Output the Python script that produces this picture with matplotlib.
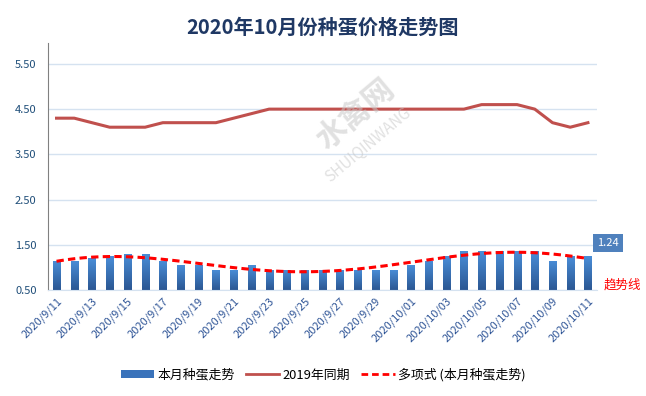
import numpy as np
import matplotlib
matplotlib.use("Agg")
import matplotlib.pyplot as plt
from matplotlib.patches import Patch
from matplotlib.lines import Line2D
from matplotlib.transforms import ScaledTranslation

plt.rcParams['font.family'] = ['Noto Sans CJK SC', 'DejaVu Sans']

# ---------------- datos ----------------
fechas = ['2020/9/11', '2020/9/12', '2020/9/13', '2020/9/14', '2020/9/15', '2020/9/16',
          '2020/9/17', '2020/9/18', '2020/9/19', '2020/9/20', '2020/9/21', '2020/9/22',
          '2020/9/23', '2020/9/24', '2020/9/25', '2020/9/26', '2020/9/27', '2020/9/28',
          '2020/9/29', '2020/9/30', '2020/10/01', '2020/10/02', '2020/10/03', '2020/10/04',
          '2020/10/05', '2020/10/06', '2020/10/07', '2020/10/08', '2020/10/09', '2020/10/10',
          '2020/10/11']
precio_2020 = [1.15, 1.15, 1.20, 1.25, 1.30, 1.30, 1.15, 1.05, 1.05, 0.95, 0.95, 1.05,
               0.95, 0.95, 0.95, 0.95, 0.95, 0.95, 0.95, 0.95, 1.05, 1.15, 1.25, 1.35,
               1.35, 1.35, 1.35, 1.35, 1.15, 1.25, 1.24]
precio_2019 = [4.3, 4.3, 4.2, 4.1, 4.1, 4.1, 4.2, 4.2, 4.2, 4.2, 4.3, 4.4, 4.5, 4.5,
               4.5, 4.5, 4.5, 4.5, 4.5, 4.5, 4.5, 4.5, 4.5, 4.5, 4.6, 4.6, 4.6, 4.5,
               4.2, 4.1, 4.2]
y_ticks = [0.5, 1.5, 2.5, 3.5, 4.5, 5.5]

AZUL_CLARO = '#4a8ed8'
AZUL_OSCURO = '#2b5793'
ROJO_2019 = '#c0504d'
DASH = (0, (2.4, 1.4))

x = np.arange(len(fechas))

fig = plt.figure(figsize=(6.46, 3.96), dpi=100)
ax = fig.add_axes([0.0738, 0.268, 0.850, 0.623])

# barras con degradado
ancho = 0.4
bars = ax.bar(x, np.array(precio_2020) - 0.5, bottom=0.5, width=ancho,
              color=AZUL_CLARO, zorder=2)
grad = np.linspace(0, 1, 100).reshape(-1, 1)
cmap = matplotlib.colors.LinearSegmentedColormap.from_list('azul', [AZUL_OSCURO, AZUL_CLARO])
for b in bars:
    bx, by = b.get_x(), b.get_y()
    im = ax.imshow(grad, cmap=cmap, aspect='auto', origin='lower',
                   extent=[bx, bx + b.get_width(), by, by + b.get_height()], zorder=2)
    im.set_clip_path(b)

# linea 2019
ax.plot(x, precio_2019, color=ROJO_2019, lw=2.2, zorder=3)

# tendencia polinomica (Excel)
coef = np.polyfit(x + 1, precio_2020, 6)
xs = np.linspace(0, len(fechas) - 1, 300)
ax.plot(xs, np.polyval(coef, xs + 1), color='#ff0000', lw=2.2, ls=DASH, zorder=4)

ax.set_xlim(-0.5, len(fechas) - 0.5)
ax.set_ylim(0.5, 5.96)
ax.set_yticks(y_ticks)
ax.set_yticklabels([f'{v:.2f}' for v in y_ticks], color='#1f4e79', fontsize=8)
ax.set_xticks(x[::2])
ax.set_xticklabels(fechas[::2], rotation=45, ha='right', rotation_mode='anchor',
                   color='#2f5597', fontsize=8)
desplaza = ScaledTranslation(-0.07, -0.09, fig.dpi_scale_trans)
for lab in ax.get_xticklabels():
    lab.set_transform(lab.get_transform() + desplaza)
ax.tick_params(axis='both', length=0, pad=8)
ax.tick_params(axis='x', pad=4)
ax.grid(axis='y', color='#d5e2f0', lw=1, zorder=0)
ax.set_axisbelow(True)
for s in ['top', 'right']:
    ax.spines[s].set_visible(False)
ax.spines['left'].set_color('#808080')
ax.spines['bottom'].set_color('#d5e2f0')

# marca de agua
fig.text(0.55, 0.71, '水禽网', fontsize=22, color='#c8c8c8', alpha=0.55, rotation=40,
         ha='center', va='center', fontweight='bold', zorder=0)
fig.text(0.57, 0.634, 'SHUIQINWANG', fontsize=11, color='#c8c8c8', alpha=0.55, rotation=40,
         ha='center', va='center', zorder=0)

# titulo
fig.text(0.5, 0.932, '2020年10月份种蛋价格走势图', fontsize=14.5, fontweight='bold',
         color='#1f3864', ha='center', va='center')

# etiqueta del ultimo valor
ax.annotate(f'{precio_2020[-1]:.2f}', xy=(x[-1], precio_2020[-1]), xytext=(14.5, 9.5),
            textcoords='offset points', ha='center', va='center', color='white', fontsize=8,
            bbox=dict(boxstyle='square,pad=0.35', fc='#4f81bd', ec='none'))
ax.annotate('趋势线', xy=(x[-1], 0.5), xytext=(24.5, 3.2), textcoords='offset points',
            ha='center', va='center', color='#ff0000', fontsize=9,
            annotation_clip=False)

# leyenda
handles = [Patch(facecolor='#3a73bb', edgecolor='none'),
           Line2D([], [], color=ROJO_2019, lw=2),
           Line2D([], [], color='#ff0000', lw=2, ls=DASH)]
labels = ['本月种蛋走势', '2019年同期', '多项式 (本月种蛋走势)']
fig.legend(handles, labels, loc='center', bbox_to_anchor=(0.5, 0.053), ncol=3,
           frameon=False, fontsize=9.3, handlelength=2.6, handleheight=0.6,
           columnspacing=0.85, handletextpad=0.25)

fig.savefig('out.png', dpi=100)
